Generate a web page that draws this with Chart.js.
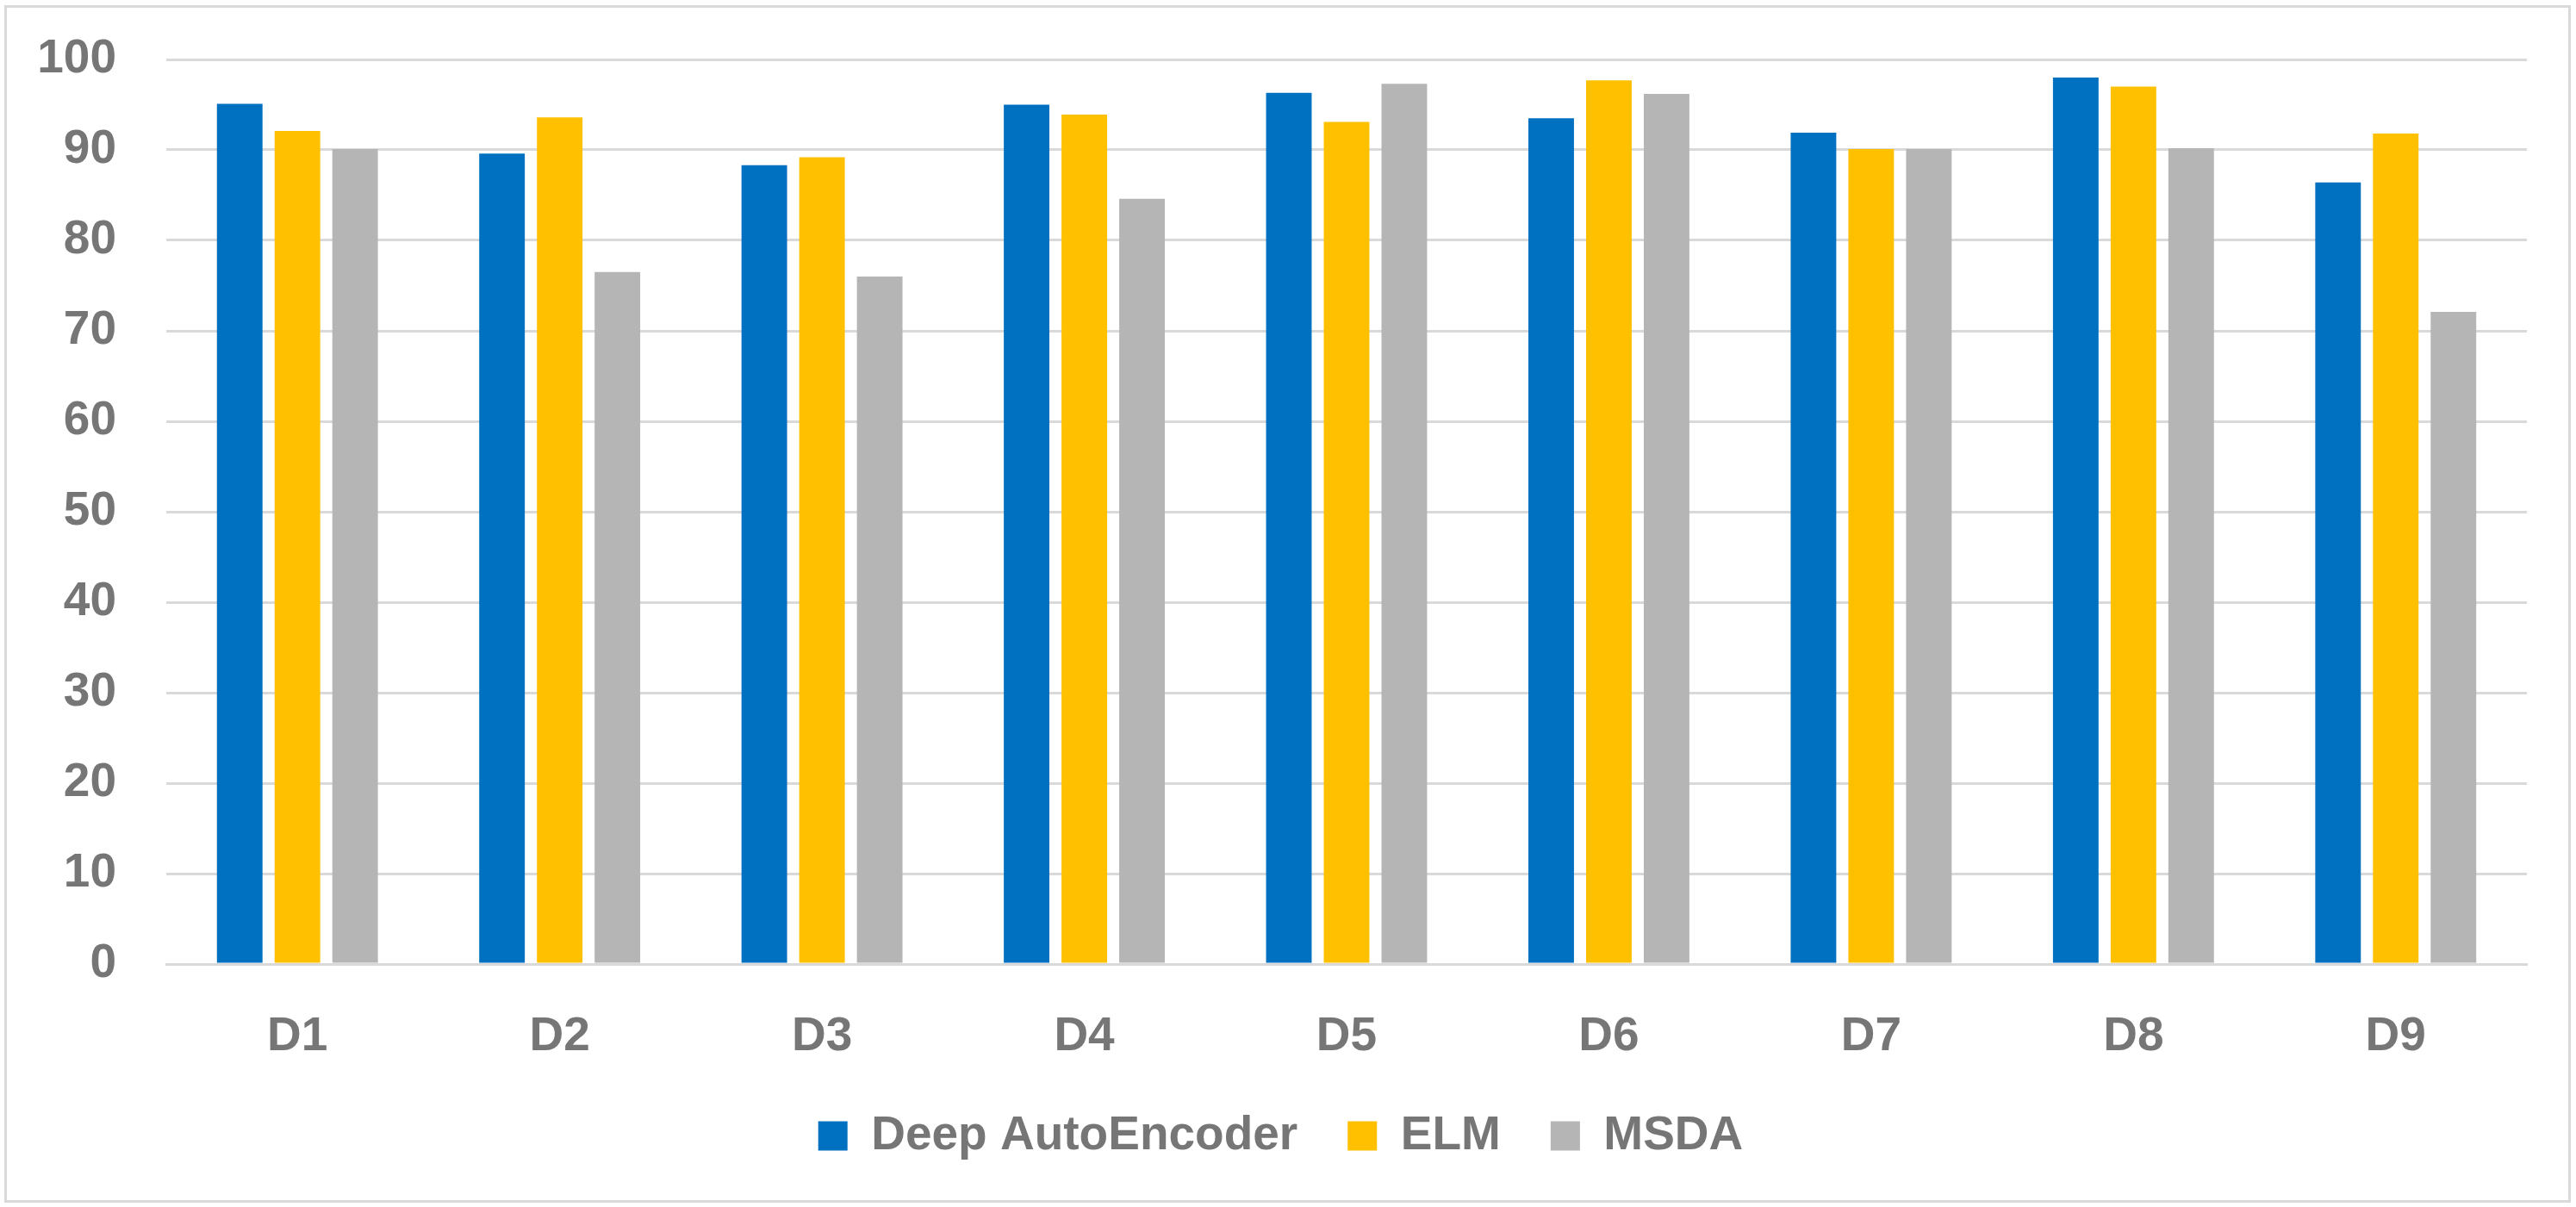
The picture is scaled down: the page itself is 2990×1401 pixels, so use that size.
<!DOCTYPE html>
<html>
<head>
<meta charset="utf-8">
<script src="https://cdn.jsdelivr.net/npm/chart.js@4.4.0/dist/chart.umd.min.js"></script>
<style>
    html, body { margin: 0; padding: 0; background: #fff; }
    #wrap { position: relative; width: 2990px; height: 1401px; }
</style>
</head>
<body>
<div id="wrap"><canvas id="chartAreaBars" width="2990" height="1401"></canvas></div>
<script>
var categories = ['D1', 'D2', 'D3', 'D4', 'D5', 'D6', 'D7', 'D8', 'D9'];
var seriesNames = ['Deep AutoEncoder', 'ELM', 'MSDA'];
var deepAutoEncoder = [95.1, 89.6, 88.3, 95.0, 96.3, 93.5, 91.9, 98.0, 86.4];
var elm = [92.1, 93.6, 89.2, 93.9, 93.1, 97.7, 90.1, 97.0, 91.8];
var msda = [90.1, 76.5, 76.0, 84.6, 97.3, 96.2, 90.1, 90.2, 72.1];
var yMin = 0;
var yMax = 100;
var yStep = 10;

var textColor = '#767676';
var gridColor = '#d9d9d9';
var font = {family: '"Liberation Sans", Arial, sans-serif', size: 55, weight: 'bold'};

// white background + light grey outer frame
var framePlugin = {
    id: 'frame',
    beforeDraw: function (chart) {
        var c = chart.ctx;
        c.save();
        c.fillStyle = '#fff';
        c.fillRect(0, 0, chart.width, chart.height);
        c.strokeStyle = gridColor;
        c.lineWidth = 3;
        c.strokeRect(6.5, 7.5, 2976, 1387);
        c.restore();
    }
};

var dataBars = {
    labels: categories,
    datasets: [
        {label: seriesNames[0], data: deepAutoEncoder, backgroundColor: '#0070C0'},
        {label: seriesNames[1], data: elm, backgroundColor: '#FFC000'},
        {label: seriesNames[2], data: msda, backgroundColor: '#B5B5B5'}
    ]
};

var ctx = document.getElementById('chartAreaBars').getContext('2d');
var myChart = new Chart(ctx, {
    type: 'bar',
    data: dataBars,
    plugins: [framePlugin],
    options: {
        responsive: false,
        animation: false,
        devicePixelRatio: 1,
        categoryPercentage: 0.66,
        barPercentage: 0.79,
        layout: {padding: {left: 40, right: 57, top: 69, bottom: 45}},
        plugins: {
            tooltip: {enabled: false},
            legend: {
                position: 'bottom',
                labels: {
                    color: textColor,
                    font: font,
                    boxWidth: 34,
                    boxHeight: 34,
                    padding: 58
                }
            }
        },
        scales: {
            x: {
                grid: {display: false},
                border: {display: true, color: gridColor, width: 3},
                ticks: {color: textColor, font: font, padding: 44},
                // pull the legend up closer to the category labels
                afterFit: function (scale) {
                    scale.height = scale.height - 48;
                }
            },
            y: {
                min: yMin,
                max: yMax,
                border: {display: false},
                grid: {color: gridColor, lineWidth: 3, drawTicks: false},
                ticks: {color: textColor, font: font, stepSize: yStep, padding: 58},
                afterFit: function (scale) {
                    scale.width = 153;
                    scale.paddingTop = 0;
                    scale.paddingBottom = 0;
                }
            }
        }
    }
});
</script>
</body>
</html>
